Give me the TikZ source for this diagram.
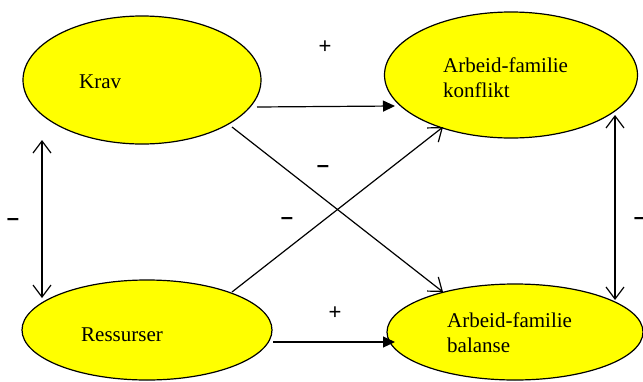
\documentclass[tikz,border=0pt]{standalone}
\usepackage{fontspec}
\setmainfont{Liberation Serif}
\newfontfamily\arialfont{Liberation Sans}
\usetikzlibrary{shapes.geometric,arrows.meta,calc}
\definecolor{ylw}{RGB}{255,255,0}
\tikzset{
  blob/.style={ellipse,draw=black,line width=1.2pt,fill=ylw,inner sep=0pt},
  lbl/.style={anchor=base west,inner sep=0pt,font=\fontsize{21}{25}\selectfont,align=left},
  sign/.style={inner sep=0pt,font=\arialfont\fontsize{22}{24}\selectfont},
  minus/.style={inner sep=0pt,font=\arialfont\bfseries\fontsize{22}{24}\selectfont},
  filled/.style={line width=1.2pt,-{Triangle[length=12pt,width=11pt]}},
  openarr/.style={line width=1.2pt,-{Straight Barb[length=12pt,width=18pt,line width=1.2pt]}},
  dbl/.style={line width=1.2pt,{Straight Barb[length=12pt,width=18pt,line width=1.2pt]}-{Straight Barb[length=12pt,width=18pt,line width=1.2pt]}}
}
\begin{document}
\begin{tikzpicture}[x=1pt,y=1pt]
\useasboundingbox (0,0) rectangle (643,-381);
\node[blob,minimum width=238pt,minimum height=128pt] (krav) at (142,-80) {};
\node[blob,minimum width=253pt,minimum height=126pt] (konf) at (511,-75) {};
\node[blob,minimum width=250pt,minimum height=100pt] (res) at (147,-330) {};
\node[blob,minimum width=256pt,minimum height=96pt] (bal) at (515,-332) {};

\node[lbl] (tkrav) at (79,-88) {Krav};
\node[lbl] (tkonf) at (443,-97) {Arbeid-familie\\konflikt};
\node[lbl] (tres) at (81,-341) {Ressurser};
\node[lbl] (tbal) at (447,-352) {Arbeid-familie\\balanse};

\draw[filled] ($(krav)+(115,-27)$) -- ($(konf)+(-116,-31)$);
\draw[filled] ($(res)+(126,-12)$) -- ($(bal)+(-120,-10)$);
\draw[openarr] ($(krav)+(90,-47)$) -- ($(bal)+(-72,40)$);
\draw[openarr] ($(res)+(85,38)$) -- ($(konf)+(-68,-52)$);
\draw[dbl] ($(krav)+(-100,-60)$) -- ($(res)+(-105,32)$);
\draw[dbl] ($(konf)+(104,-40)$) -- ($(bal)+(100,32)$);

\node[sign] (p1) at (325,-47) {+};
\node[sign] (p2) at (335,-313) {+};
\node[minus] (m1) at (323,-169) {–};
\node[minus] (m2) at (287,-221) {–};
\node[minus] (m3) at (13,-222) {–};
\node[minus] (m4) at (640,-221) {–};
\end{tikzpicture}
\end{document}
